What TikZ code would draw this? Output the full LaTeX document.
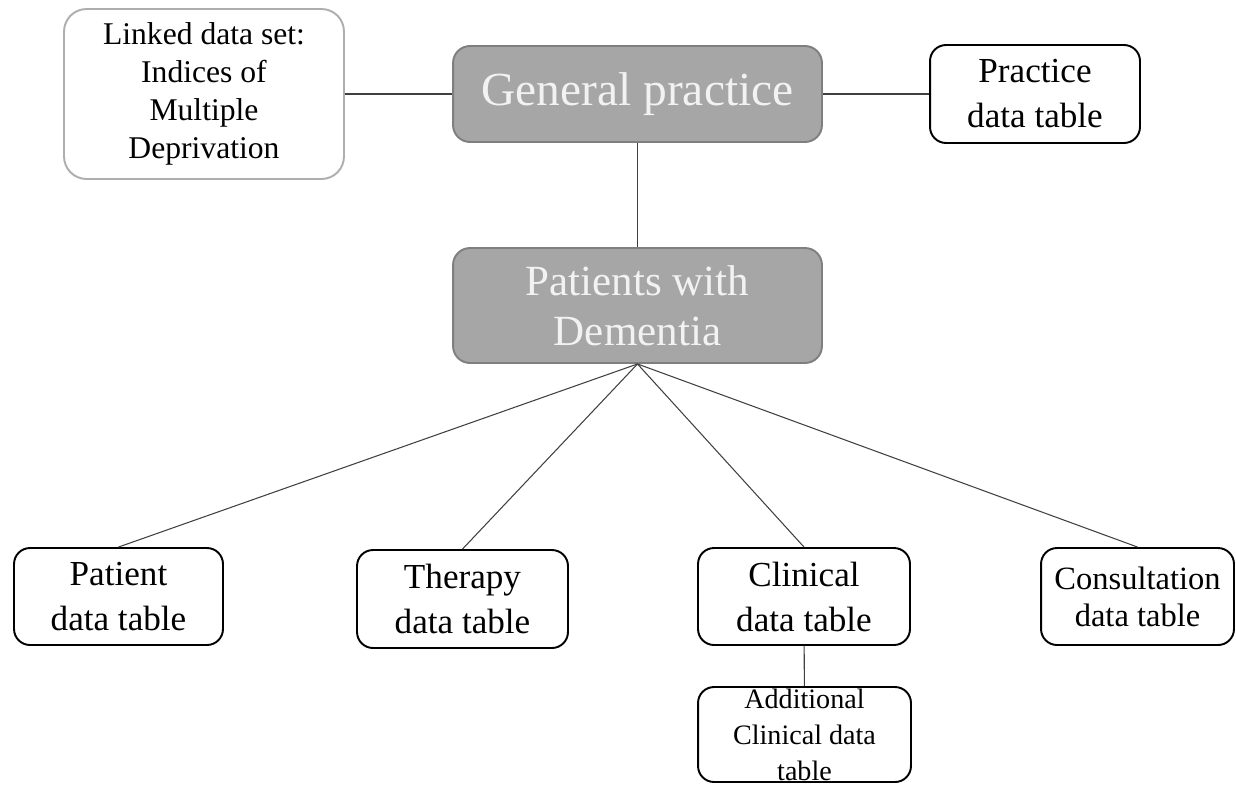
\documentclass[tikz,border=0pt]{standalone}
\usepackage{fontspec}
\setmainfont{Liberation Serif}
\definecolor{boxgrey}{HTML}{A6A6A6}
\definecolor{rimgrey}{HTML}{7F7F7F}
\definecolor{palegrey}{HTML}{AEAEAE}
\definecolor{wirecol}{HTML}{404040}
\tikzset{
  tablebox/.style={draw=black, line width=1.1pt, rounded corners=0.32cm, align=center, inner sep=0pt},
  greybox/.style={draw=rimgrey, line width=1.1pt, fill=boxgrey, text=white!95!black, rounded corners=0.34cm, align=center, inner sep=0pt},
  linkbox/.style={draw=palegrey, line width=1.1pt, rounded corners=0.45cm, align=center, inner sep=0pt},
  wire/.style={draw=wirecol, line width=0.6pt}
}
\begin{document}
\begin{tikzpicture}[x=0.02cm, y=-0.02cm]
\useasboundingbox (0,0) rectangle (1236,785);

% top row
\node[linkbox, minimum width=5.6cm, minimum height=3.4cm, font=\fontsize{18}{21.6}\selectfont] (idm) at (204,94)
  {Linked data set:\\Indices of\\Multiple\\Deprivation};
\node[greybox, minimum width=7.38cm, minimum height=1.92cm, font=\fontsize{27}{34}\selectfont] (gp) at (637.5,94)
  {General practice};
\node[tablebox, minimum width=4.2cm, minimum height=1.96cm, font=\fontsize{20}{25.6}\selectfont] (practice) at (1035,94)
  {Practice\\data table};

% middle
\node[greybox, minimum width=7.38cm, minimum height=2.3cm, font=\fontsize{24.5}{28.5}\selectfont] (dementia) at (637.5,305.5)
  {Patients with\\Dementia};

% bottom row
\node[tablebox, minimum width=4.18cm, minimum height=1.94cm, font=\fontsize{20}{25.6}\selectfont] (patient) at (118.5,596.5)
  {Patient\\data table};
\node[tablebox, minimum width=4.22cm, minimum height=1.96cm, font=\fontsize{20}{25.6}\selectfont] (therapy) at (462.5,599)
  {Therapy\\data table};
\node[tablebox, minimum width=4.24cm, minimum height=1.94cm, font=\fontsize{20}{25.6}\selectfont] (clinical) at (804,596.5)
  {Clinical\\data table};
\node[tablebox, minimum width=3.86cm, minimum height=1.94cm, font=\fontsize{18.5}{21}\selectfont] (consult) at (1137.5,596.5)
  {Consultation\\data table};
\node[tablebox, minimum width=4.26cm, minimum height=1.9cm, font=\fontsize{16}{20.5}\selectfont] (extra) at (804.5,734.5)
  {Additional\\Clinical data\\table};

% connectors
\draw[wire] (idm) -- (gp);
\draw[wire] (gp) -- (practice);
\draw[wire] (gp) -- (dementia);
\foreach \t in {patient, therapy, clinical, consult}
  \draw[wire] (dementia.south) -- (\t.north);
\draw[wire] (clinical) -- (extra);

\end{tikzpicture}
\end{document}
